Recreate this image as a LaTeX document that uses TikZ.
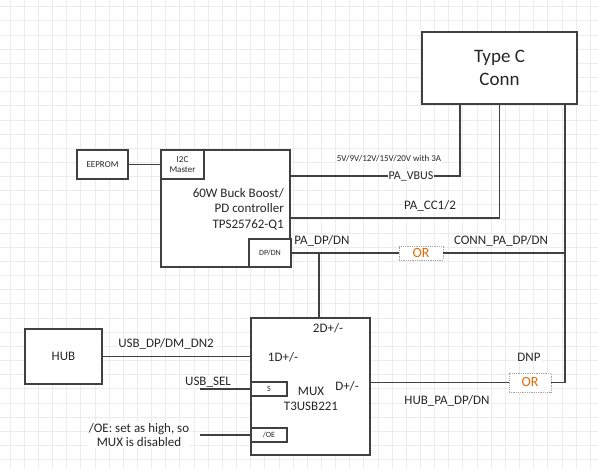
\documentclass[tikz,border=0pt]{standalone}
\usepackage{fontspec}
\setmainfont{Carlito}
\usetikzlibrary{positioning,calc}
\definecolor{wire}{RGB}{64,64,64}
\definecolor{ortext}{RGB}{226,107,10}
\definecolor{gridc}{RGB}{236,236,236}

\begin{document}
\begin{tikzpicture}[x=1pt,y=-1pt,
  blk/.style={draw=wire, line width=1.4pt, fill=white, inner sep=0pt, text=black!85},
  wr/.style={draw=wire, line width=1.3pt},
  lbl/.style={fill=white, inner sep=1pt, text=black!85, font=\fontsize{13}{15.6}\selectfont},
  txt/.style={inner sep=1pt, text=black!85, font=\fontsize{13}{15.6}\selectfont},
  orbox/.style={draw=gray!70, densely dotted, line width=0.8pt, fill=white, inner sep=0pt,
    text=ortext, font=\fontsize{14}{16}\selectfont}]
  \useasboundingbox[fill=white] (0,0) rectangle (598,468);
  \foreach \i in {0,...,41}
    \draw[gridc, line width=0.7pt] ({10+14.15*\i},0) -- ({10+14.15*\i},468);
  \foreach \i in {0,...,32}
    \draw[gridc, line width=0.7pt] (0,{6.7+14.15*\i}) -- (598,{6.7+14.15*\i});

  \node[blk, minimum width=155, minimum height=72, align=center, font=\fontsize{19}{23}\selectfont] (conn) at (499.5,68) {Type C\\Conn};
  \node[blk, minimum width=51, minimum height=29, font=\fontsize{9}{11}\selectfont] (eeprom) at (102.5,164.5) {EEPROM};
  \node[blk, minimum width=129, minimum height=117] (pd) at (225.5,208.5) {};
  \node[blk, minimum width=43, minimum height=29, align=center, font=\fontsize{9}{10.5}\selectfont] (i2c) at (182.5,164.5) {I2C\\Master};
  \node[blk, minimum width=42, minimum height=28, font=\fontsize{8}{10}\selectfont] (dpdn) at (270,253) {DP/DN};
  \node[txt, anchor=east, align=right] (pdtxt) at (285,209) {60W Buck Boost/\\PD controller\\TPS25762-Q1};
  \node[blk, minimum width=119, minimum height=137] (mux) at (310.5,386.5) {};
  \node[blk, minimum width=36, minimum height=14, font=\fontsize{8}{9}\selectfont] (sel) at (269,389) {S};
  \node[blk, minimum width=36, minimum height=14, font=\fontsize{8}{9}\selectfont] (oe) at (269,435) {/OE};
  \node[blk, minimum width=77, minimum height=55, font=\fontsize{13}{15.6}\selectfont] (hub) at (63.5,356.5) {HUB};
  \node[orbox, minimum width=44, minimum height=14] (or1) at (421,253) {OR};
  \node[orbox, minimum width=42, minimum height=19] (or2) at (530,382.5) {OR};

  \coordinate (vbus) at (460,176);
  \coordinate (cc) at (499.5,218);
  \coordinate (rail) at (565,253);
  \coordinate (tap) at (319,253);
  \coordinate (selin) at (200,389);
  \coordinate (oein) at (200,435);

  \draw[wr] (eeprom) -- (i2c);
  \draw[wr] (pd.east |- vbus) -| (conn.south -| vbus);
  \draw[wr] (pd.east |- cc) -| (conn.south);
  \draw[wr] (dpdn) -- (or1);
  \draw[wr] (or1) -- (rail);
  \draw[wr] (conn.south -| rail) |- (or2);
  \draw[wr] (tap) -- (tap |- mux.north);
  \draw[wr] (hub) -- (hub -| mux.west);
  \draw[wr] (selin) -- (sel);
  \draw[wr] (oein) -- (oe);
  \draw[wr] (mux.east |- or2) -- (or2);

  \node[lbl, font=\fontsize{9}{11}\selectfont] (vlim) at (389,159) {5V/9V/12V/15V/20V with 3A};
  \node[lbl, font=\fontsize{12}{14}\selectfont] (vbuslbl) at (411,176) {PA\_VBUS};
  \node[lbl] (cclbl) at (430,206) {PA\_CC1/2};
  \node[lbl] (dplbl) at (322,241) {PA\_DP/DN};
  \node[lbl] (connlbl) at (501,241) {CONN\_PA\_DP/DN};
  \node[txt] (twod) at (328,328) {2D+/-};
  \node[txt] (oned) at (283,357) {1D+/-};
  \node[txt, align=center] (muxlbl) at (311,399) {MUX\\T3USB221};
  \node[txt] (dout) at (347,386) {D+/-};
  \node[lbl] (usblbl) at (166,344) {USB\_DP/DM\_DN2};
  \node[lbl] (sellbl) at (208,382) {USB\_SEL};
  \node[lbl, align=center, font=\fontsize{13}{14.5}\selectfont] (oelbl) at (139,435) {/OE: set as high, so\\MUX is disabled};
  \node[lbl] (dnp) at (529,357) {DNP};
  \node[lbl] (hubpa) at (447,401) {HUB\_PA\_DP/DN};
\end{tikzpicture}
\end{document}
